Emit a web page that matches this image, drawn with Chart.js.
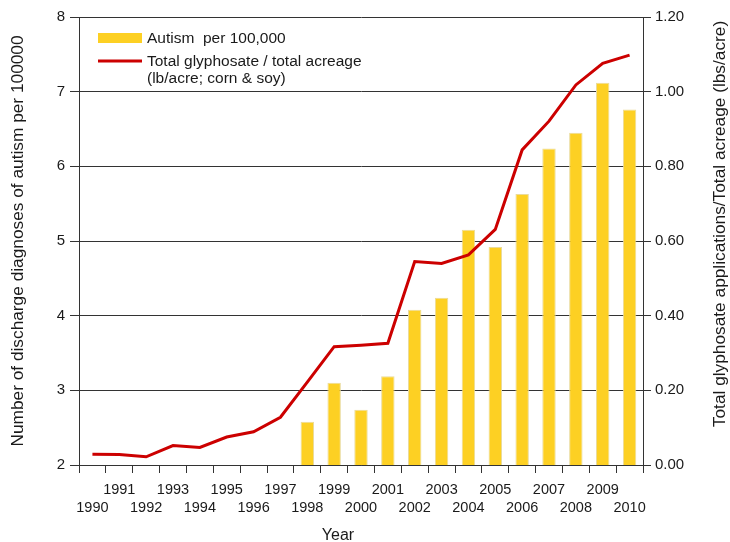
<!DOCTYPE html>
<html lang="en">
<head>
<meta charset="UTF-8">
<title>Autism and glyphosate, 1990-2010</title>
<script src="https://cdn.jsdelivr.net/npm/chart.js"></script>
<style>
  html, body { margin: 0; padding: 0; background: #fff; }
  #wrap { width: 730px; height: 542px; }
</style>
</head>
<body>
<div id="wrap"><canvas id="chart"></canvas></div>
<script>
// data
const years = ['1990', '1991', '1992', '1993', '1994', '1995', '1996', '1997', '1998', '1999', '2000',
               '2001', '2002', '2003', '2004', '2005', '2006', '2007', '2008', '2009', '2010'];
const autism = [null, null, null, null, null, null, null, null,
                2.58, 3.10, 2.74, 3.19, 4.08, 4.24, 5.15, 4.92, 5.63, 6.24, 6.45, 7.12, 6.76];
const glyphosate = [0.029, 0.028, 0.022, 0.052, 0.047, 0.075, 0.089, 0.128, 0.222, 0.317, 0.321,
                    0.326, 0.545, 0.540, 0.563, 0.631, 0.844, 0.921, 1.018, 1.076, 1.098];
const autismLabel = 'Autism  per 100,000';
const glyLabel = ['Total glyphosate / total acreage', '(lb/acre; corn & soy)'];
const xTitle = 'Year';
const leftTitle = 'Number of discharge diagnoses of autism per 100000';
const rightTitle = 'Total glyphosate applications/Total acreage (lbs/acre)';

const barColor = '#FDD023';
const lineColor = '#CC0000';
const ink = '#1a1a1a';
const gridColor = '#333';
const family = '"Liberation Sans", Arial, sans-serif';

Chart.defaults.font.family = family;
Chart.defaults.color = ink;

// legend inside the plot (top left) and the three axis titles
const extras = {
  id: 'extras',
  afterDraw(chart) {
    const { ctx, chartArea } = chart;
    const x = chartArea.left + 19, y = chartArea.top + 16;
    ctx.save();
    ctx.fillStyle = barColor;
    ctx.fillRect(x, y, 44, 10);
    ctx.strokeStyle = lineColor;
    ctx.lineWidth = 3;
    ctx.beginPath();
    ctx.moveTo(x, y + 28);
    ctx.lineTo(x + 44, y + 28);
    ctx.stroke();
    ctx.fillStyle = ink;
    ctx.font = '15.5px ' + family;
    ctx.textBaseline = 'middle';
    ctx.fillText(autismLabel, x + 49, y + 6);
    ctx.fillText(glyLabel[0], x + 49, y + 29);
    ctx.fillText(glyLabel[1], x + 49, y + 46);

    ctx.textAlign = 'center';
    ctx.font = '16px ' + family;
    ctx.fillText(xTitle, chartArea.left + 259, 536);

    ctx.font = '17.3px ' + family;
    ctx.save();
    ctx.translate(18, 241);
    ctx.rotate(-Math.PI / 2);
    ctx.fillText(leftTitle, 0, 0);
    ctx.restore();
    ctx.save();
    ctx.translate(720, 224);
    ctx.rotate(-Math.PI / 2);
    ctx.fillText(rightTitle, 0, 0);
    ctx.restore();
    ctx.restore();
  }
};

new Chart(document.getElementById('chart'), {
  data: {
    labels: years,
    datasets: [
      {
        type: 'line',
        label: glyLabel.join(' '),
        data: glyphosate,
        yAxisID: 'y1',
        borderColor: lineColor,
        borderWidth: 3,
        pointRadius: 0,
        tension: 0,
        order: 0
      },
      {
        type: 'bar',
        label: autismLabel,
        data: autism,
        yAxisID: 'y',
        backgroundColor: barColor,
        borderColor: '#EADB9A',
        borderWidth: 1,
        categoryPercentage: 1,
        barPercentage: 0.5,
        order: 1
      }
    ]
  },
  options: {
    responsive: true,
    maintainAspectRatio: false,
    animation: false,
    layout: { padding: { top: 17 } },
    plugins: { legend: { display: false }, tooltip: { enabled: false } },
    scales: {
      x: {
        offset: true,
        grid: { offset: true, drawOnChartArea: false, tickLength: 8, color: gridColor },
        border: { color: gridColor },
        ticks: {
          autoSkip: false, maxRotation: 0, padding: 8,
          font: { size: 14.5, lineHeight: 1.25 },
          // odd years on the upper row, even years on the lower row
          callback: (v, i) => (i % 2 ? [years[i], ''] : ['', years[i]])
        },
        afterFit: s => { s.height = 77; }
      },
      y: {
        position: 'left',
        min: 2, max: 8,
        ticks: { stepSize: 1, padding: 5, font: { size: 15 } },
        grid: { color: gridColor, tickLength: 9 },
        border: { color: gridColor },
        afterFit: s => { s.width = 79; }
      },
      y1: {
        position: 'right',
        min: 0, max: 1.2,
        ticks: { stepSize: 0.2, padding: 4, font: { size: 15 }, callback: v => v.toFixed(2) },
        grid: { drawOnChartArea: false, color: gridColor, tickLength: 8 },
        border: { color: gridColor },
        afterFit: s => { s.width = 87; }
      }
    }
  },
  plugins: [extras]
});
</script>
</body>
</html>
